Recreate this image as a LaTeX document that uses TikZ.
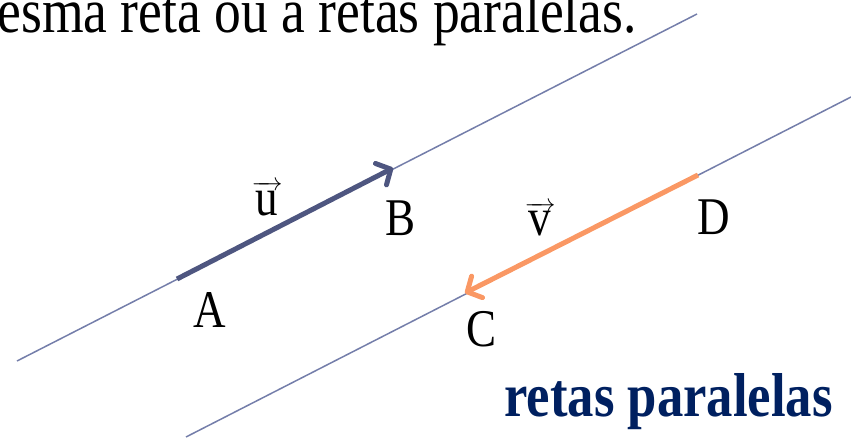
\documentclass[tikz,border=0pt]{standalone}
\usepackage{amsmath}
\usepackage{xcolor}
\usepackage{fontspec}
\setmainfont{Liberation Serif}
\newfontfamily\narrowserif[FakeStretch=0.85]{Liberation Serif}
\usepackage{tikz}
\usetikzlibrary{arrows.meta}
\definecolor{retacol}{RGB}{116,126,170}
\definecolor{ucol}{RGB}{78,86,128}
\definecolor{vcol}{RGB}{250,152,100}
\definecolor{titcol}{RGB}{0,32,96}
\tikzset{
  reta/.style={draw=retacol, line width=1.5pt},
  vetor/.style={line width=5pt, -{Straight Barb[length=11pt,width=24pt,round]}},
  lbl/.style={font=\narrowserif\fontsize{53}{60}\selectfont, inner sep=0pt, anchor=base},
  topo/.style={font=\narrowserif\fontsize{63}{70}\selectfont, inner sep=0pt, anchor=base east},
  titulo/.style={font=\narrowserif\fontsize{62}{70}\selectfont\bfseries, text=titcol,
                 inner sep=0pt, anchor=base east}
}

\begin{document}
\begin{tikzpicture}[x=1pt, y=1pt]
  \path[use as bounding box, clip] (0,0) rectangle (851,437);
  % texto de cima
  \node[topo] (frase) at (637,404) {mesma reta ou a retas paralelas.};
  % retas
  \coordinate (r1a) at (17,76);  \coordinate (r1b) at (697,423);
  \coordinate (r2a) at (186,0);  \coordinate (r2b) at (851,340);
  \draw[reta] (r1a) -- (r1b);
  \draw[reta] (r2a) -- (r2b);
  % vetores
  \coordinate (A) at (177,158); \coordinate (B) at (393,269);
  \coordinate (D) at (698,262); \coordinate (C) at (465,144);
  \draw[vetor, ucol] (A) -- (B);
  \draw[vetor, vcol] (D) -- (C);
  % rotulos
  \node[lbl] (lA) at (210,110) {A};
  \node[lbl] (lB) at (401,202) {B};
  \node[lbl] (lC) at (482,91) {C};
  \node[lbl] (lD) at (714,203) {D};
  \node[lbl] (lu) at (267,222) {$\overrightarrow{\,\text{u}\,}$};
  \node[lbl] (lv) at (540,201) {$\overrightarrow{\,\text{v}\,}$};
  \node[titulo] (tit) at (833,21) {retas paralelas};
\end{tikzpicture}
\end{document}
